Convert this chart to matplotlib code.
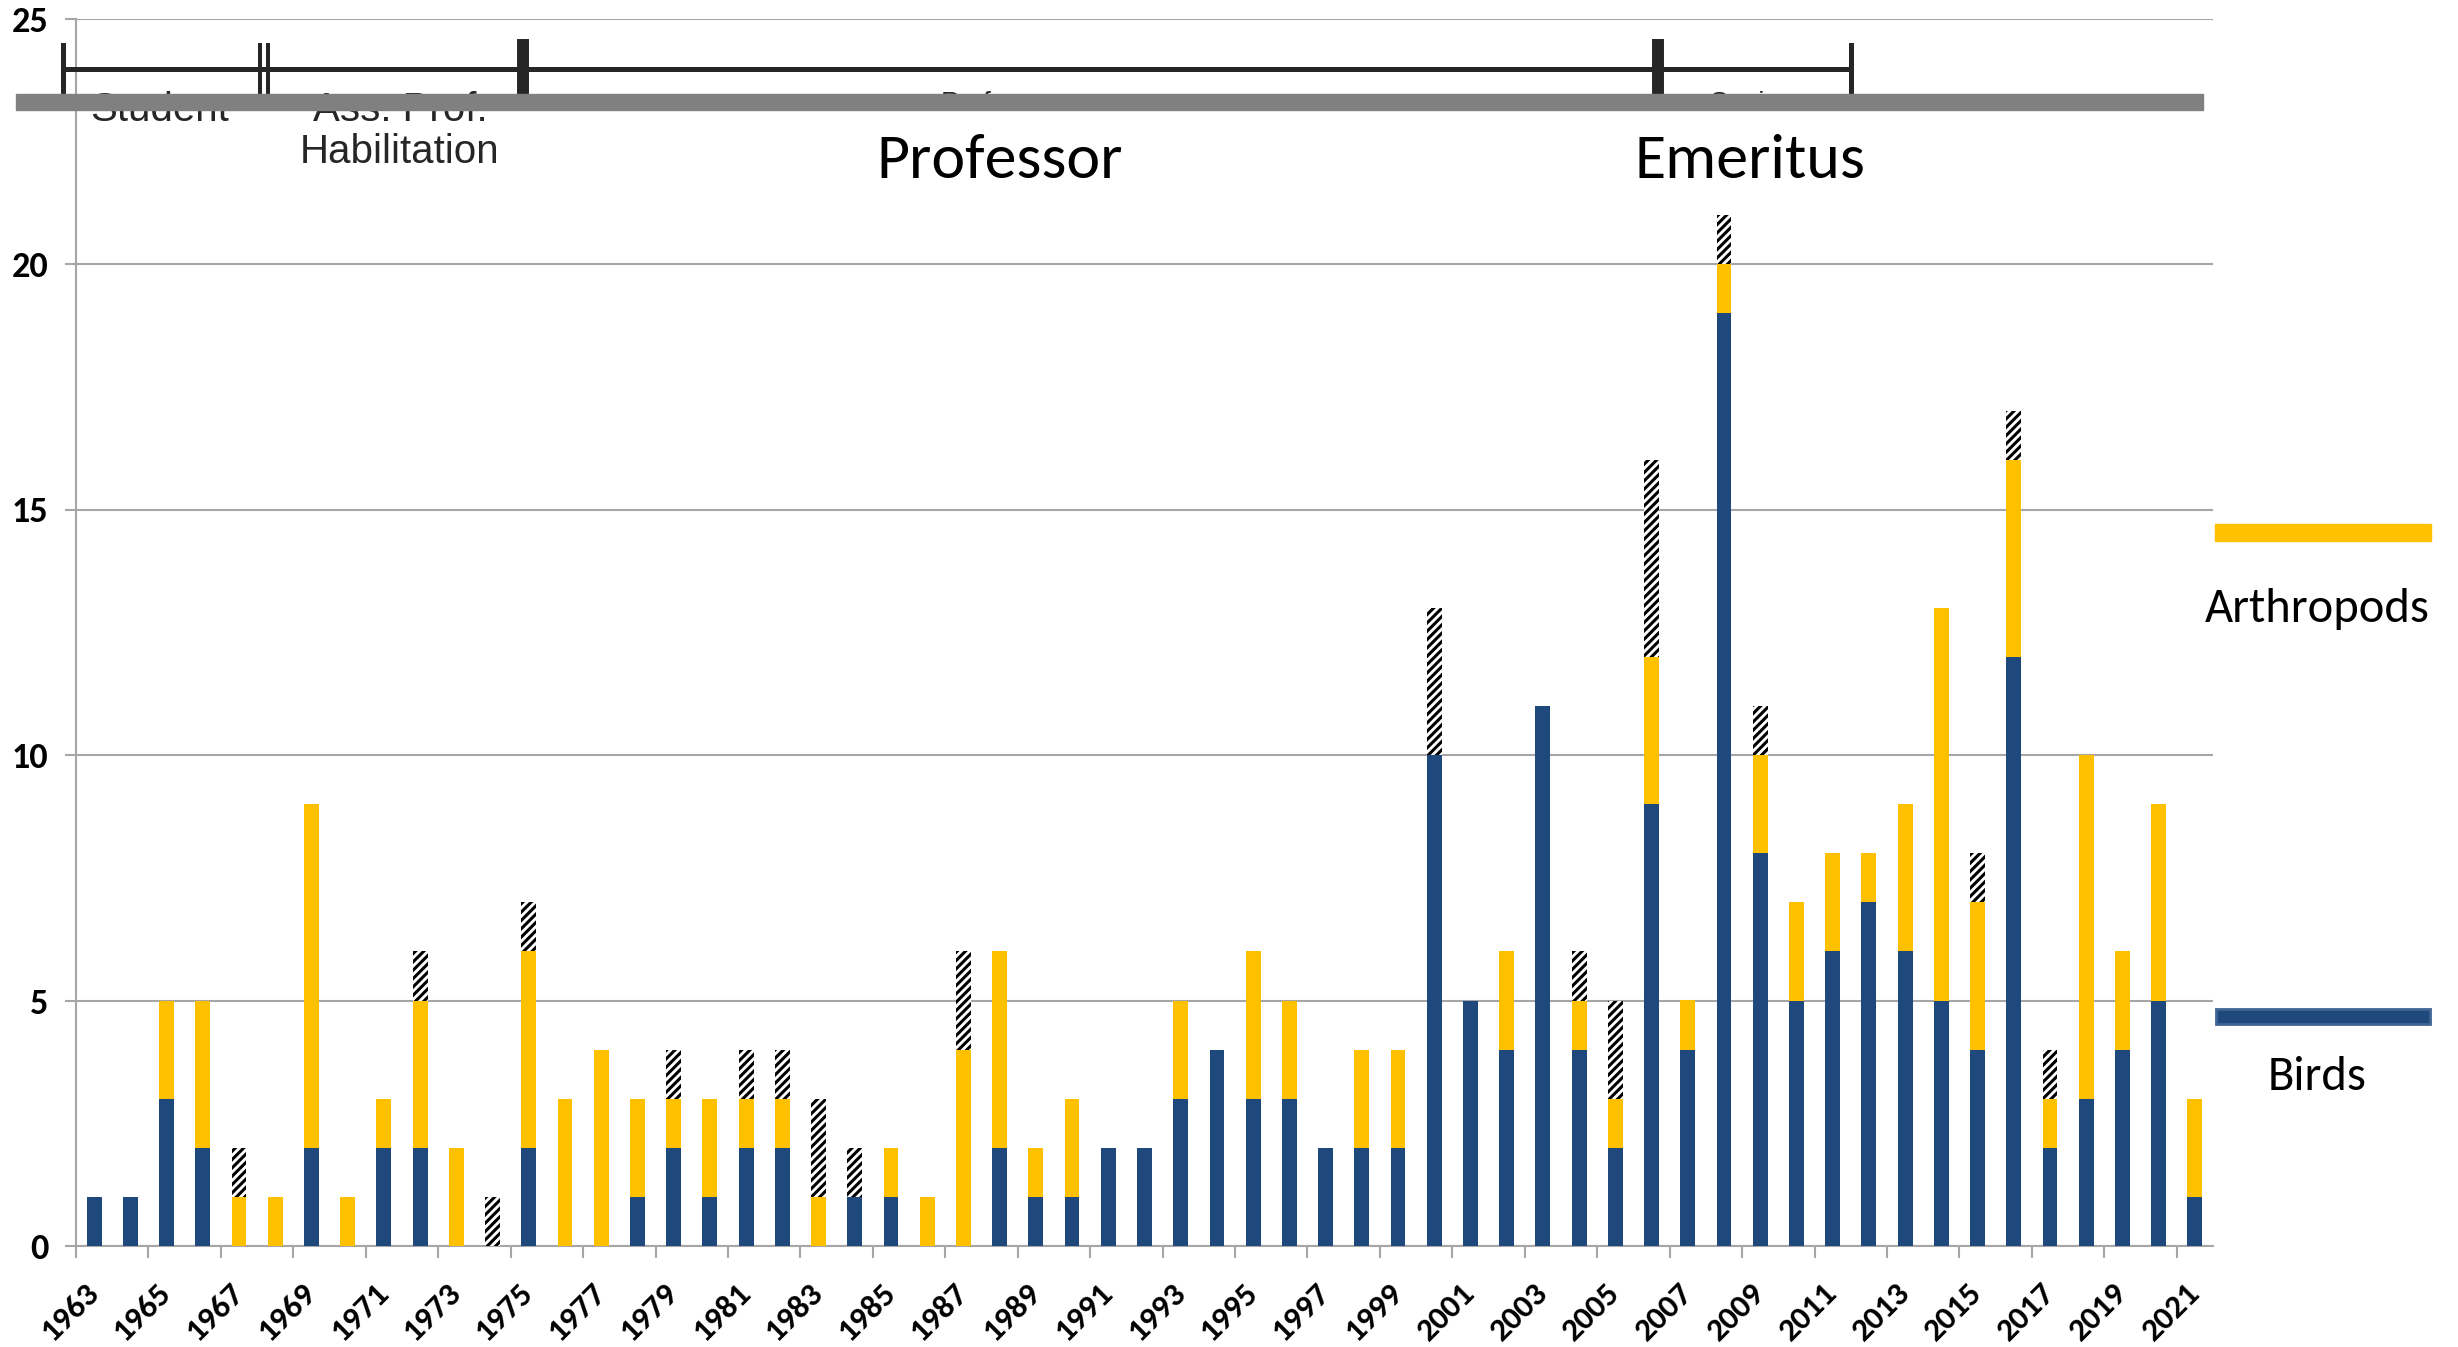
import numpy as np
import matplotlib
matplotlib.use("Agg")
import matplotlib.pyplot as plt
from matplotlib.lines import Line2D
from matplotlib.patches import Rectangle

# publications per year, split by topic
years = list(range(1963, 2022))
birds = [1, 1, 3, 2, 0, 0, 2, 0, 2, 2, 0, 0, 2, 0, 0, 1, 2, 1, 2, 2,
         0, 1, 1, 0, 0, 2, 1, 1, 2, 2, 3, 4, 3, 3, 2, 2, 2, 10, 5, 4,
         11, 4, 2, 9, 4, 19, 8, 5, 6, 7, 6, 5, 4, 12, 2, 3, 4, 5, 1]
arthropods = [0, 0, 2, 3, 1, 1, 7, 1, 1, 3, 2, 0, 4, 3, 4, 2, 1, 2, 1, 1,
              1, 0, 1, 1, 4, 4, 1, 2, 0, 0, 2, 0, 3, 2, 0, 2, 2, 0, 0, 2,
              0, 1, 1, 3, 1, 1, 2, 2, 2, 1, 3, 8, 3, 4, 1, 7, 2, 4, 2]
other = [0, 0, 0, 0, 1, 0, 0, 0, 0, 1, 0, 1, 1, 0, 0, 0, 1, 0, 1, 1,
         2, 1, 0, 0, 2, 0, 0, 0, 0, 0, 0, 0, 0, 0, 0, 0, 0, 3, 0, 0,
         0, 1, 2, 4, 0, 1, 1, 0, 0, 0, 0, 0, 1, 1, 1, 0, 0, 0, 0]

BLUE = "#1F497D"
YELLOW = "#FFC000"
GRID = "#A6A6A6"
DARK = "#262626"

W, H = 2458, 1347
plt.rcParams["hatch.linewidth"] = 2.2
calibri = ["Carlito", "Lato", "DejaVu Sans"]
arial = ["Liberation Sans", "DejaVu Sans"]


def fx(px):
    return px / W


def fy(py):
    return 1 - py / H


fig = plt.figure(figsize=(W / 100, H / 100), dpi=100)
ax = fig.add_axes([fx(76), fy(1246), (2213 - 76) / W, (1246 - 18.5) / H])

x = np.arange(len(years))
b = np.array(birds)
a = np.array(arthropods)
o = np.array(other)
bw = 0.41
ax.bar(x, b, bw, color=BLUE, zorder=3)
ax.bar(x, a, bw, bottom=b, color=YELLOW, zorder=3)
ax.bar(x, o, bw, bottom=b + a, color="white", edgecolor="black",
       linewidth=0, hatch="////", zorder=3)

ax.set_xlim(-0.5, len(years) - 0.5)
ax.set_ylim(0, 25)
ax.set_yticks(range(0, 26, 5))
ax.yaxis.grid(True, color=GRID, linewidth=1.5, zorder=0)
for s in ["top", "right"]:
    ax.spines[s].set_visible(False)
for s in ["left", "bottom"]:
    ax.spines[s].set_color(GRID)
    ax.spines[s].set_linewidth(1.5)

ax.set_xticks(x[::2])
ax.set_xticklabels([str(y) for y in years[::2]])
ax.set_xticks(np.arange(-0.5, len(years), 2), minor=True)
ax.tick_params(axis="x", which="major", length=0, pad=30)
ax.tick_params(axis="x", which="minor", length=8.5, width=1.5, color=GRID)
ax.tick_params(axis="y", length=8, width=1.5, color=GRID, pad=12)
for lbl in ax.get_xticklabels():
    lbl.set_rotation(45)
    lbl.set_ha("right")
    lbl.set_va("center")
    lbl.set_rotation_mode("anchor")
    lbl.set_fontsize(24)
for lbl in ax.get_yticklabels():
    lbl.set_fontsize(26)
for lbl in ax.get_xticklabels() + ax.get_yticklabels():
    lbl.set_family(calibri)
    lbl.set_fontweight("bold")

# career timeline at the top
fig.add_artist(Line2D([fx(63), fx(1851)], [fy(69), fy(69)], color=DARK,
                      lw=3.6, transform=fig.transFigure, zorder=5))
for px, lw in [(63, 3.6), (260, 2.9), (268, 2.9), (523, 8.6), (1658, 8.6), (1851, 3.6)]:
    fig.add_artist(Line2D([fx(px), fx(px)], [fy(45), fy(102)], color=DARK,
                          lw=lw, transform=fig.transFigure, zorder=5))
for txt, px, py, fs in [("Student", 160, 121, 29), ("Ass. Prof.", 400, 121, 29),
                        ("Habilitation", 400, 163, 29), ("Professor", 1000, 111, 20),
                        ("Senior", 1750, 111, 20)]:
    fig.text(fx(px), fy(py), txt, ha="center", va="baseline", fontsize=fs,
             family=arial, color=DARK, zorder=5)
fig.add_artist(Rectangle((fx(16), fy(110)), (2203 - 16) / W, 16 / H,
                         color="#808080", transform=fig.transFigure, zorder=6))

fig.text(fx(1000), fy(178), "Professor", ha="center", va="baseline",
         fontsize=46, family=calibri)
fig.text(fx(1750), fy(178), "Emeritus", ha="center", va="baseline",
         fontsize=46, family=calibri)

# legend on the right
fig.add_artist(Rectangle((fx(2215), fy(541)), 216 / W, 17 / H, color=YELLOW,
                         transform=fig.transFigure))
fig.add_artist(Rectangle((fx(2216), fy(1024)), 214 / W, 15 / H, facecolor=BLUE,
                         edgecolor="#3E6594", lw=2, transform=fig.transFigure))
fig.text(fx(2317), fy(622), "Arthropods", ha="center", va="baseline",
         fontsize=35, family=calibri)
fig.text(fx(2317), fy(1090), "Birds", ha="center", va="baseline",
         fontsize=35, family=calibri)

fig.savefig("out.png", dpi=100)
